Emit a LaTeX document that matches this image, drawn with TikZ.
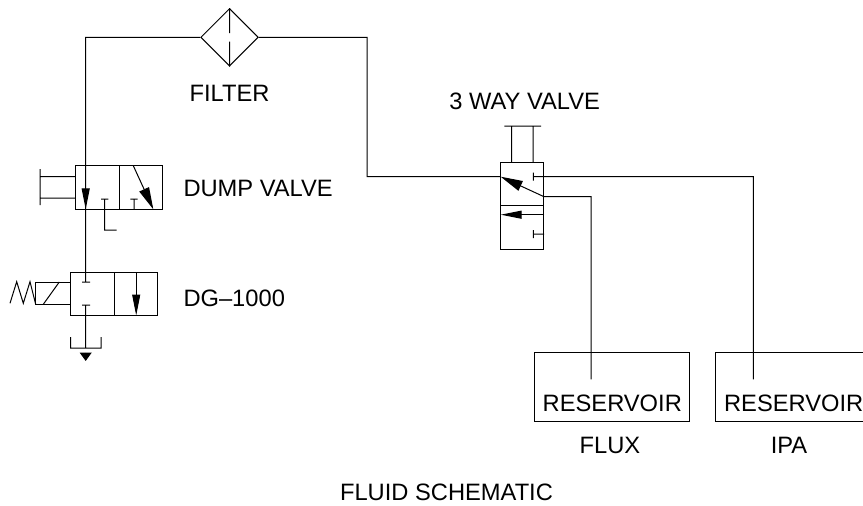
\documentclass[tikz,border=0pt]{standalone}
\usepackage{fontspec}
\setmainfont{Liberation Sans}
\usetikzlibrary{arrows.meta,shapes.geometric}

\begin{document}
\begin{tikzpicture}[x=1pt,y=-1pt,line width=1pt,
  cell/.style={rectangle,draw,inner sep=0pt,minimum width=43.5pt,minimum height=43.5pt},
  tall cell/.style={cell,minimum width=43.3pt},
  main label/.style={font=\fontsize{23.7}{28}\selectfont,inner sep=0pt,anchor=base},
  left label/.style={main label,anchor=base west},
  slim/.style={-{Triangle[length=21pt,width=8pt]}},
  wide/.style={-{Triangle[length=22pt,width=10.5pt]}},
  tip/.style={-{Triangle[length=8.5pt,width=12pt]}}]

  \useasboundingbox (0,0) rectangle (863,506);

  % filter
  \node[diamond,draw,inner sep=0pt,minimum width=57.6pt,minimum height=57.6pt] (filter) at (229.5,37.3) {};
  \coordinate (filtera) at (229.5,33);
  \coordinate (filterb) at (229.5,41.7);
  \coordinate (lineleft) at (85.7,37.3);
  \coordinate (lineright) at (367,37.3);
  \coordinate (linein) at (367,176.7);

  % dump valve
  \node[cell] (dump1) at (97.5,187.5) {};
  \node[cell] (dump2) at (141,187.5) {};
  \coordinate (plunger1) at (40,176.7);
  \coordinate (plunger2) at (40,198);
  \coordinate (plungera) at (40,169);
  \coordinate (plungerb) at (40,205);
  \coordinate (dump1in) at (75.7,176.7);
  \coordinate (dump1out) at (75.7,198);
  \coordinate (dumptip) at (85.7,209.3);
  \coordinate (dumpback) at (85.7,180);
  \coordinate (teea) at (101,199);
  \coordinate (teeb) at (108.3,199);
  \coordinate (teec) at (104.7,199);
  \coordinate (teed) at (104.7,230);
  \coordinate (teee) at (116.7,230);
  \coordinate (teef) at (130.3,199);
  \coordinate (teeg) at (137.7,199);
  \coordinate (teeh) at (134,199);
  \coordinate (teei) at (134,209.3);
  \coordinate (swinga) at (133.3,165.7);
  \coordinate (swingb) at (153.3,209.3);

  % dg-1000
  \node[cell] (dg1) at (92.7,293.8) {};
  \node[cell] (dg2) at (136.2,293.8) {};
  \node[rectangle,draw,inner sep=0pt,minimum width=35.7pt,minimum height=22.3pt] (coil) at (52.85,293.2) {};
  \coordinate (coila) at (43.3,304.3);
  \coordinate (coilb) at (59.3,282);
  \coordinate (spring1) at (10,303.3);
  \coordinate (spring2) at (16.7,281.7);
  \coordinate (spring3) at (23.3,303.3);
  \coordinate (spring4) at (30,281.7);
  \coordinate (spring5) at (35.7,304.3);
  \coordinate (dgtop) at (85.7,282);
  \coordinate (dgtopa) at (82,282);
  \coordinate (dgtopb) at (90,282);
  \coordinate (dgbot) at (85.7,305);
  \coordinate (dgbota) at (82,305);
  \coordinate (dgbotb) at (90,305);
  \coordinate (dgarrowa) at (136.2,272);
  \coordinate (dgarrowb) at (136.2,315.5);

  % drain
  \coordinate (drainend) at (85.7,348);
  \coordinate (draina) at (70.7,337);
  \coordinate (drainb) at (70.7,348);
  \coordinate (drainc) at (101,348);
  \coordinate (draind) at (101,337);
  \coordinate (drainx) at (85.7,352.5);
  \coordinate (drainy) at (85.7,361);

  % 3 way valve
  \node[tall cell] (way1) at (522.3,184) {};
  \node[tall cell] (way2) at (522.3,227.4) {};
  \coordinate (waya) at (504.3,126);
  \coordinate (wayb) at (541,126);
  \coordinate (wayc) at (511.7,126);
  \coordinate (wayd) at (511.7,162.3);
  \coordinate (waye) at (533,126);
  \coordinate (wayf) at (533,162.3);
  \coordinate (wayin) at (500.7,176.7);
  \coordinate (wayout) at (544,196.7);
  \coordinate (waytop) at (533.3,176.7);
  \coordinate (waytopa) at (533.3,172.7);
  \coordinate (waytopb) at (533.3,180.7);
  \coordinate (waylowa) at (544,214.7);
  \coordinate (waylowb) at (500.7,214.7);
  \coordinate (waytee) at (533.3,234);
  \coordinate (wayteea) at (533.3,230);
  \coordinate (wayteeb) at (533.3,238);
  \coordinate (wayteec) at (544,234);
  \coordinate (fluxcorner) at (591,196.7);
  \coordinate (ipacorner) at (753.3,176.7);

  % reservoirs
  \node[rectangle,draw,inner sep=0pt,minimum width=155pt,minimum height=68.3pt] (flux) at (612.2,386.9) {};
  \node[rectangle,draw,inner sep=0pt,minimum width=155pt,minimum height=68.3pt] (ipa) at (793.2,386.9) {};
  \coordinate (fluxend) at (591,379.3);
  \coordinate (ipaend) at (753.3,379.3);

  \node[main label] (filterlabel) at (229.5,101) {FILTER};
  \node[main label] (waylabel) at (524.7,109.3) {3 WAY VALVE};
  \node[left label] (dumplabel) at (183,196) {DUMP VALVE};
  \node[left label] (dglabel) at (183,306) {DG--1000};
  \node[main label] (res1) at (612.3,411) {RESERVOIR};
  \node[main label] (res2) at (793.7,411) {RESERVOIR};
  \node[main label] (fluxlabel) at (610,453.3) {FLUX};
  \node[main label] (ipalabel) at (789,453.3) {IPA};
  \node[main label] (titlelabel) at (446.5,500) {FLUID SCHEMATIC};

  \path[draw]
    (filter.north) -- (filtera)
    (filterb) -- (filter.south)
    (filter.west) -- (lineleft) -- (dgtop)
    (filter.east) -- (lineright) -- (linein) -- (wayin)
    (plungera) -- (plungerb)
    (plunger1) -- (dump1in)
    (plunger2) -- (dump1out)
    (teea) -- (teeb)
    (teec) -- (teed) -- (teee)
    (teef) -- (teeg)
    (teeh) -- (teei)
    (spring1) -- (spring2) -- (spring3) -- (spring4) -- (spring5)
    (coila) -- (coilb)
    (dgtopa) -- (dgtopb)
    (dgbota) -- (dgbotb)
    (dgbot) -- (drainend)
    (draina) -- (drainb) -- (drainc) -- (draind)
    (waya) -- (wayb)
    (wayc) -- (wayd)
    (waye) -- (wayf)
    (waytopa) -- (waytopb)
    (waytop) -- (ipacorner) -- (ipaend)
    (wayout) -- (fluxcorner) -- (fluxend)
    (wayteea) -- (wayteeb)
    (waytee) -- (wayteec)
    ;

  \path
    (dumpback) edge[slim] (dumptip)
    (swinga) edge[wide] (swingb)
    (dgarrowa) edge[slim] (dgarrowb)
    (wayout) edge[wide] (wayin)
    (waylowa) edge[slim] (waylowb)
    (drainx) edge[tip] (drainy)
    ;
\end{tikzpicture}
\end{document}
